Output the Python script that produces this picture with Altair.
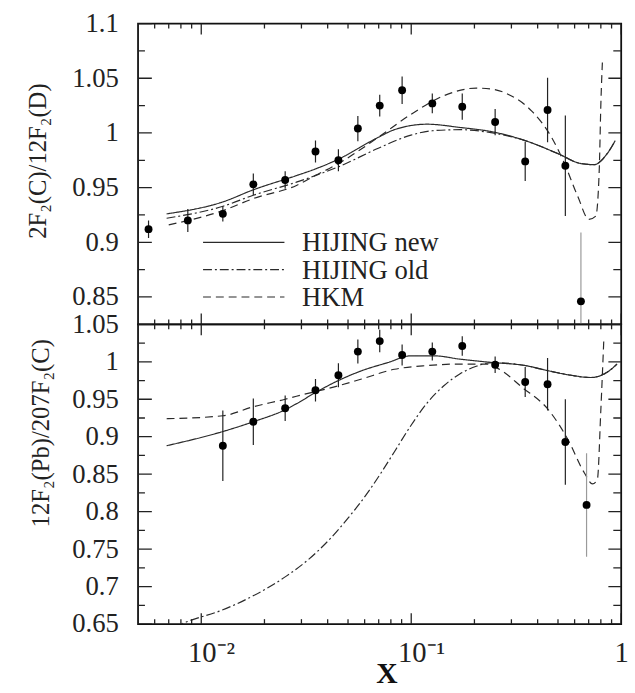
import altair as alt
import pandas as pd

# ---------------- data ----------------
# top panel: 2F2(C)/12F2(D)
top_x = [0.00561, 0.00863, 0.01267, 0.0177, 0.0251, 0.0350, 0.0450, 0.0557, 0.0708,
         0.0905, 0.126, 0.175, 0.251, 0.349, 0.446, 0.542, 0.643]
top_y = [0.912, 0.920, 0.926, 0.953, 0.957, 0.983, 0.975, 1.004, 1.025,
         1.039, 1.027, 1.024, 1.010, 0.974, 1.021, 0.970, 0.846]
top_err = [0.008, 0.0105, 0.007, 0.0098, 0.008, 0.010, 0.010, 0.0115, 0.010,
           0.0125, 0.009, 0.012, 0.012, 0.018, 0.0295, 0.046, 0.063]

# bottom panel: 12F2(Pb)/207F2(C)
bot_x = [0.01267, 0.0177, 0.0251, 0.0350, 0.0450, 0.0557, 0.0708, 0.0905,
         0.126, 0.175, 0.251, 0.349, 0.446, 0.542, 0.684]
bot_y = [0.888, 0.920, 0.938, 0.962, 0.982, 1.0136, 1.0276, 1.009,
         1.0136, 1.021, 0.996, 0.973, 0.970, 0.893, 0.809]
bot_err = [0.047, 0.031, 0.017, 0.015, 0.016, 0.016, 0.015, 0.014,
           0.012, 0.013, 0.011, 0.020, 0.035, 0.057, 0.069]

# model curves, top panel
new_top_x = [0.00684, 0.0127, 0.0177, 0.0284, 0.0349, 0.045, 0.0697, 0.0832, 0.119,
             0.171, 0.244, 0.349, 0.501, 0.643, 0.743, 0.857, 0.937]
new_top_y = [0.926, 0.937, 0.948, 0.961, 0.967, 0.976, 0.996, 1.003, 1.008,
             1.005, 1.001, 0.993, 0.981, 0.972, 0.971, 0.981, 0.993]
old_top_x = [0.00684, 0.0127, 0.0177, 0.0284, 0.0349, 0.045, 0.0697, 0.0997, 0.126,
             0.171, 0.244, 0.349, 0.501, 0.643, 0.743, 0.857, 0.937]
old_top_y = [0.922, 0.933, 0.943, 0.955, 0.961, 0.969, 0.986, 0.998, 1.002,
             1.003, 1.000, 0.993, 0.981, 0.972, 0.971, 0.981, 0.993]
hkm_top_x = [0.0070, 0.0127, 0.0177, 0.0284, 0.0349, 0.045, 0.0697, 0.0997, 0.143,
             0.204, 0.244, 0.292, 0.375, 0.466, 0.537, 0.621, 0.702, 0.757, 0.786,
             0.800, 0.815]
hkm_top_y = [0.916, 0.929, 0.940, 0.952, 0.961, 0.972, 0.996, 1.017, 1.034,
             1.041, 1.040, 1.035, 1.020, 0.996, 0.972, 0.942, 0.921, 0.924, 0.966,
             1.026, 1.068]

# model curves, bottom panel
new_bot_x = [0.00684, 0.0127, 0.0177, 0.0251, 0.0284, 0.035, 0.045, 0.058, 0.0775,
             0.0997, 0.128, 0.171, 0.244, 0.349, 0.450, 0.578, 0.716, 0.857, 0.955]
new_bot_y = [0.888, 0.907, 0.920, 0.936, 0.944, 0.959, 0.975, 0.988, 0.999,
             1.008, 1.008, 1.0035, 0.999, 0.995, 0.988, 0.982, 0.979, 0.986, 0.997]
old_bot_x = [0.0075, 0.00836, 0.0124, 0.01776, 0.02542, 0.03266, 0.04051, 0.05023,
             0.06229, 0.0719, 0.0832, 0.0997, 0.119, 0.143, 0.171, 0.204, 0.244,
             0.349, 0.450, 0.578, 0.716, 0.857, 0.955]
old_bot_y = [0.646, 0.652, 0.668, 0.688, 0.714, 0.737, 0.762, 0.792,
             0.826, 0.852, 0.880, 0.915, 0.945, 0.968, 0.984, 0.994, 0.999,
             0.995, 0.988, 0.982, 0.979, 0.986, 0.997]
hkm_bot_x = [0.00684, 0.0127, 0.0177, 0.0251, 0.0284, 0.045, 0.058, 0.0832, 0.119,
             0.171, 0.227, 0.263, 0.337, 0.450, 0.558, 0.667, 0.730, 0.770, 0.800, 0.826]
hkm_bot_y = [0.924, 0.928, 0.940, 0.950, 0.954, 0.968, 0.977, 0.990, 0.995,
             0.997, 0.997, 0.990, 0.966, 0.936, 0.896, 0.852, 0.837, 0.843, 0.936, 1.028]

series_names = ["HIJING new", "HIJING old", "HKM"]
dash_styles = [[1, 0], [9, 3, 2, 3], [8, 5]]

# axis ticks
x_major = [0.01, 0.1, 1.0]
x_minor = [0.005, 0.006, 0.007, 0.008, 0.009,
           0.02, 0.03, 0.04, 0.05, 0.06, 0.07, 0.08, 0.09,
           0.2, 0.3, 0.4, 0.5, 0.6, 0.7, 0.8, 0.9]
top_y_major = [0.85, 0.9, 0.95, 1.0, 1.05, 1.1]
top_y_minor = [0.875, 0.925, 0.975, 1.025, 1.075]
bot_y_major = [0.65, 0.7, 0.75, 0.8, 0.85, 0.9, 0.95, 1.0, 1.05]
bot_y_minor = [0.675, 0.725, 0.775, 0.825, 0.875, 0.925, 0.975, 1.025]

# legend entries, placed in data coordinates of the top panel
legend_y = [0.90, 0.875, 0.85]
legend_x1, legend_x2, legend_xt = 0.0102, 0.0249, 0.0302

# ---------------- styling ----------------
W = 490
H_TOP = 305
H_BOT = 304
SERIF = "Liberation Serif"
LINE_COLOR = "#2a2a2a"

XDOM = [0.005, 1.0]


def xscale():
    return alt.Scale(type="log", domain=XDOM, nice=False)


def build_panel(px, py, perr, curves, ydom, H, ymaj, ymin, ytitle, tX, tY,
                show_x, legend=False):
    ysc = alt.Scale(domain=ydom, nice=False, zero=False)

    yaxis = alt.Axis(values=ymaj, ticks=False, domain=False, grid=False,
                     labelExpr="format(datum.value, '~g')",
                     labelFont=SERIF, labelFontSize=27, labelColor="#222",
                     labelPadding=20, labelFlush=False, labelOverlap=False,
                     title=ytitle, titleFont=SERIF, titleFontSize=25,
                     titleFontWeight="normal", titleColor="#222",
                     titleAngle=270, titleAlign="center", titleBaseline="middle",
                     titleX=tX, titleY=tY)
    if show_x:
        xaxis = alt.Axis(values=x_major, ticks=False, domain=False, grid=False,
                         labelExpr="datum.value > 0.5 ? '1' : (datum.value > 0.05 ? '10\u207b\u00b9' : '10\u207b\u00b2')",
                         labelFont=SERIF, labelFontSize=29, labelColor="#222",
                         labelPadding=15, labelFlush=False,
                         labelOffset={"condition": {"test": "datum.value < 0.5", "value": 10}, "value": 0},
                         title="X", titleFont=SERIF, titleFontSize=30,
                         titleFontWeight="bold", titleColor="#111",
                         titleX=252, titleY=50, titleBaseline="middle", titleAlign="center")
    else:
        xaxis = None

    def X(field):
        return alt.X(field, type="quantitative", scale=xscale(), axis=xaxis)

    def Y(field):
        return alt.Y(field, type="quantitative", scale=ysc, axis=yaxis)

    pts = pd.DataFrame({"x": px, "y": py, "err": perr})
    pts["lo"] = pts["y"] - pts["err"]
    pts["hi"] = pts["y"] + pts["err"]
    pts["ecol"] = ["#222"] * (len(px) - 1) + ["#9a9a9a"]

    errbars = alt.Chart(pts).mark_rule(strokeWidth=1.2, clip=True).encode(
        x=X("x"), y=Y("lo"), y2="hi", color=alt.Color("ecol:N", scale=None))
    dots = alt.Chart(pts).mark_point(filled=True, shape="circle", size=64,
                                     color="black", opacity=1, clip=True).encode(
        x=X("x"), y=Y("y"))

    cdf = pd.concat([pd.DataFrame({"x": cx, "y": cy, "series": nm})
                     for (cx, cy), nm in zip(curves, series_names)])
    dash = alt.StrokeDash("series:N", scale=alt.Scale(domain=series_names, range=dash_styles),
                          legend=None)
    lines = alt.Chart(cdf).mark_line(color=LINE_COLOR, strokeWidth=1.2, clip=True,
                                     interpolate="monotone").encode(
        x=X("x"), y=Y("y"), strokeDash=dash, detail="series:N")

    layers = [lines, errbars, dots]

    # inward ticks on all four sides
    ymj = pd.DataFrame({"v": ymaj})
    ymn = pd.DataFrame({"v": ymin})
    xmj = pd.DataFrame({"v": x_major})
    xmn = pd.DataFrame({"v": x_minor})
    tk = dict(color="#222", strokeWidth=1.3, clip=True)
    layers += [
        alt.Chart(ymj).mark_rule(**tk).encode(y=Y("v"), x=alt.value(0), x2=alt.value(14)),
        alt.Chart(ymn).mark_rule(**tk).encode(y=Y("v"), x=alt.value(0), x2=alt.value(7)),
        alt.Chart(ymj).mark_rule(**tk).encode(y=Y("v"), x=alt.value(W - 13), x2=alt.value(W)),
        alt.Chart(ymn).mark_rule(**tk).encode(y=Y("v"), x=alt.value(W - 8), x2=alt.value(W)),
        alt.Chart(xmj).mark_rule(**tk).encode(x=X("v"), y=alt.value(H), y2=alt.value(H - 11)),
        alt.Chart(xmn).mark_rule(**tk).encode(x=X("v"), y=alt.value(H), y2=alt.value(H - 5)),
        alt.Chart(xmj).mark_rule(**tk).encode(x=X("v"), y=alt.value(0), y2=alt.value(11)),
        alt.Chart(xmn).mark_rule(**tk).encode(x=X("v"), y=alt.value(0), y2=alt.value(5)),
    ]

    if legend:
        ldf = pd.DataFrame({"series": series_names, "ly": legend_y,
                            "x1": [legend_x1] * 3, "x2": [legend_x2] * 3,
                            "xt": [legend_xt] * 3})
        layers += [
            alt.Chart(ldf).mark_rule(color=LINE_COLOR, strokeWidth=1.2).encode(
                x=X("x1"), x2="x2", y=Y("ly"), strokeDash=dash),
            alt.Chart(ldf).mark_text(align="left", baseline="middle", font=SERIF,
                                     fontSize=27, color="#222", dy=1).encode(
                x=X("xt"), y=Y("ly"), text="series:N"),
        ]

    return alt.layer(*layers).properties(width=W, height=H)


top = build_panel(top_x, top_y, top_err,
                  [(new_top_x, new_top_y), (old_top_x, old_top_y), (hkm_top_x, hkm_top_y)],
                  [0.825, 1.1], H_TOP, top_y_major, top_y_minor,
                  "2F\u2082(C)/12F\u2082(D)", -102, 139, show_x=False, legend=True)
bot = build_panel(bot_x, bot_y, bot_err,
                  [(new_bot_x, new_bot_y), (old_bot_x, old_bot_y), (hkm_bot_x, hkm_bot_y)],
                  [0.65, 1.05], H_BOT, bot_y_major, bot_y_minor,
                  "12F\u2082(Pb)/207F\u2082(C)", -99, 110, show_x=True)

chart = alt.vconcat(top, bot, spacing=0, bounds="flush").properties(
    padding={"left": 25, "top": 4, "right": 5, "bottom": 0},
    background="white",
).configure_view(stroke="#111", strokeWidth=1.8)

chart.save("out.html", embed_options={"renderer": "svg", "actions": False})
